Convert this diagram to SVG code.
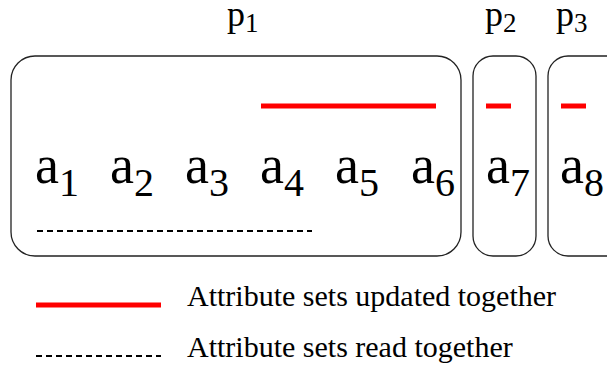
<svg xmlns="http://www.w3.org/2000/svg" width="607" height="367" viewBox="0 0 607 367">
<rect width="607" height="367" fill="#fff"/>
<g id="p1-label"><text x="227" y="26" font-family="Liberation Serif" font-size="36">p</text><text x="245" y="32" font-family="Liberation Serif" font-size="27">1</text></g>
<g id="p2-label"><text x="485" y="26" font-family="Liberation Serif" font-size="36">p</text><text x="503" y="32" font-family="Liberation Serif" font-size="27">2</text></g>
<g id="p3-label"><text x="556" y="26" font-family="Liberation Serif" font-size="36">p</text><text x="574" y="32" font-family="Liberation Serif" font-size="27">3</text></g>
<g id="p1">
<rect fill="none" stroke="#222" stroke-width="1.3" x="11" y="56" width="450" height="200" rx="24" ry="24"/>
<text x="35" y="183" font-family="Liberation Serif" font-size="54">a</text><text x="59" y="196" font-family="Liberation Serif" font-size="40">1</text>
<text x="110" y="183" font-family="Liberation Serif" font-size="54">a</text><text x="134" y="196" font-family="Liberation Serif" font-size="40">2</text>
<text x="185" y="183" font-family="Liberation Serif" font-size="54">a</text><text x="209" y="196" font-family="Liberation Serif" font-size="40">3</text>
<text x="260" y="183" font-family="Liberation Serif" font-size="54">a</text><text x="284" y="196" font-family="Liberation Serif" font-size="40">4</text>
<text x="335" y="183" font-family="Liberation Serif" font-size="54">a</text><text x="359" y="196" font-family="Liberation Serif" font-size="40">5</text>
<text x="411" y="183" font-family="Liberation Serif" font-size="54">a</text><text x="435" y="196" font-family="Liberation Serif" font-size="40">6</text>
</g>
<g id="p2">
<rect fill="none" stroke="#222" stroke-width="1.3" x="473" y="56" width="63" height="200" rx="20" ry="20"/>
<text x="486" y="183" font-family="Liberation Serif" font-size="54">a</text><text x="510" y="196" font-family="Liberation Serif" font-size="40">7</text>
</g>
<g id="p3">
<rect fill="none" stroke="#222" stroke-width="1.3" x="548" y="56" width="80" height="200" rx="20" ry="20"/>
<text x="560" y="183" font-family="Liberation Serif" font-size="54">a</text><text x="584" y="196" font-family="Liberation Serif" font-size="40">8</text>
</g>
<g id="connectors">
<line stroke="#f00" stroke-width="5" x1="261" y1="106" x2="436" y2="106"/>
<line stroke="#f00" stroke-width="5" x1="486" y1="106" x2="511" y2="106"/>
<line stroke="#f00" stroke-width="5" x1="561" y1="106" x2="586" y2="106"/>
<line stroke="#000" stroke-width="2" stroke-dasharray="6 4" x1="37" y1="231" x2="312" y2="231"/>
</g>
<g id="legend">
<line stroke="#f00" stroke-width="5" x1="36" y1="305" x2="161" y2="305"/>
<text x="187" y="306" font-family="Liberation Serif" font-size="30">Attribute sets updated together</text>
<line stroke="#000" stroke-width="2" stroke-dasharray="6 4" x1="36" y1="356" x2="161" y2="356"/>
<text x="187" y="357" font-family="Liberation Serif" font-size="30">Attribute sets read together</text>
</g>
</svg>
